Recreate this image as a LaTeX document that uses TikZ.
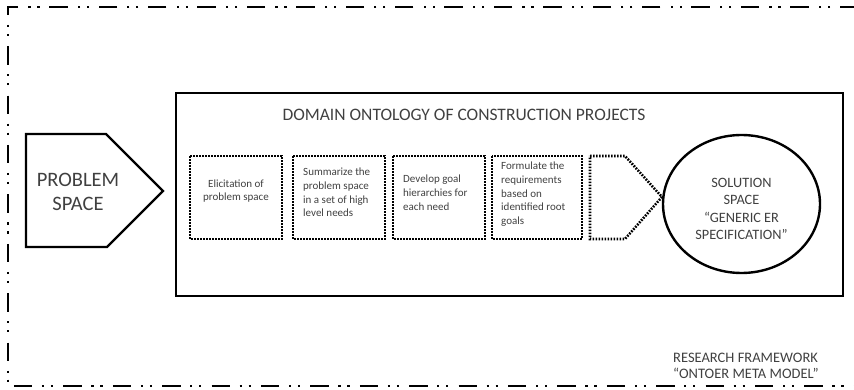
\documentclass[tikz,border=0pt]{standalone}
\usepackage{fontspec}
\setmainfont{Carlito}
\definecolor{txt}{HTML}{404040}
\tikzset{
  frame/.style={line width=2.4pt, dash pattern=on 18.4pt off 9.6pt on 2.2pt off 6.8pt on 2.2pt off 10.2pt},
  solidline/.style={line width=2.4pt},
  dotline/.style={line width=2.6pt, dash pattern=on 1.7pt off 1.3pt},
  smalltxt/.style={text=txt, font=\fontsize{11}{13.6}\selectfont, inner sep=0pt, align=left},
  bigtxt/.style={text=txt, inner sep=0pt, align=center}
}
\begin{document}
\begin{tikzpicture}[x=1pt,y=-1pt]
\useasboundingbox (0,0) rectangle (854,390);
% outer research framework frame
\draw[frame] (858,7) -- (8,7) -- (8,386) -- (858,386);
% domain ontology box
\draw[solidline] (176,93) rectangle (843,296);
\node[bigtxt, font=\fontsize{17.5}{21}\selectfont] (title) at (464,115) {DOMAIN ONTOLOGY OF CONSTRUCTION PROJECTS};
% problem space
\draw[solidline] (26,134) -- (106,134) -- (163,191) -- (107,247) -- (26,247) -- cycle;
\node[bigtxt, font=\fontsize{20.5}{24}\selectfont] (problem) at (78,191.5) {PROBLEM\\SPACE};
% dotted steps
\draw[dotline] (190,156) rectangle (282,239);
\node[smalltxt, align=center] (s1) at (236,191) {Elicitation of\\problem space};
\draw[dotline] (293,156) rectangle (385,239);
\node[smalltxt, anchor=north west] (s2) at (303,168) {Summarize the\\problem space\\in a set of high\\level needs};
\draw[dotline] (393,156) rectangle (485,239);
\node[smalltxt, anchor=north west] (s3) at (403,175) {Develop goal\\hierarchies for\\each need};
\draw[dotline] (492,156) rectangle (582,239);
\node[smalltxt, anchor=north west] (s4) at (501,162) {Formulate the\\requirements\\based on\\identified root\\goals};
\draw[dotline] (590,156) -- (625,156) -- (662,197) -- (625,239) -- (590,239) -- cycle;
% solution space
\draw[solidline] (741.5,204) ellipse [x radius=78.5, y radius=69];
\node[bigtxt, font=\fontsize{14.3}{17.5}\selectfont] (solution) at (741.5,209) {SOLUTION\\SPACE\\“GENERIC ER\\SPECIFICATION”};
% research framework label
\node[bigtxt, align=left, anchor=north west, font=\fontsize{14.5}{16.3}\selectfont] (rf) at (673,352.5) {RESEARCH FRAMEWORK\\“ONTOER META MODEL”};
\end{tikzpicture}
\end{document}
